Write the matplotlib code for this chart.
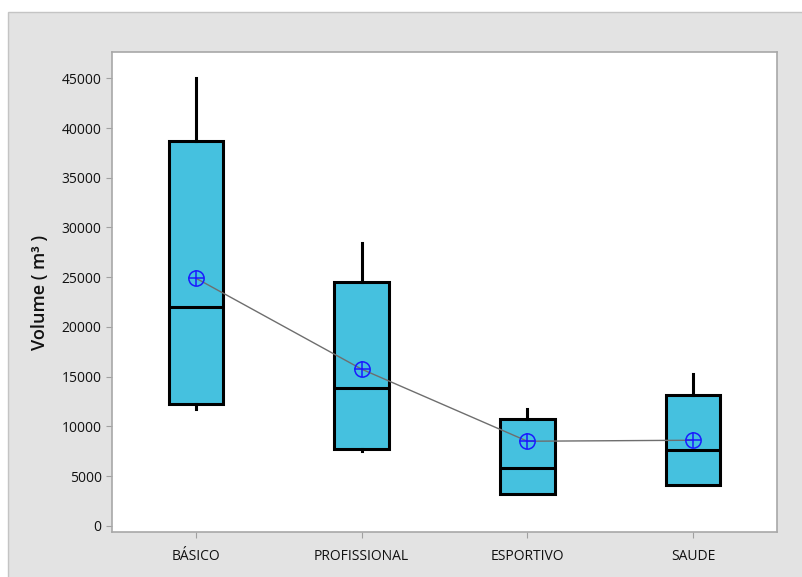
import matplotlib.pyplot as plt
from matplotlib.patches import Rectangle

plt.rcParams['font.family'] = ['Open Sans', 'DejaVu Sans']

# resumo de cada grupo (volume em m³)
categorias = ['BÁSICO', 'PROFISSIONAL', 'ESPORTIVO', 'SAUDE']
whis_inf = [11700, 7550, 3150, 4100]
q1 = [12250, 7700, 3200, 4100]
mediana = [22000, 13900, 5800, 7600]
q3 = [38700, 24550, 10700, 13200]
whis_sup = [45000, 28400, 11750, 15300]
media = [24900, 15750, 8500, 8600]
yticks = [0, 5000, 10000, 15000, 20000, 25000, 30000, 35000, 40000, 45000]

fig = plt.figure(figsize=(8.03, 5.77), dpi=100)
fig.patch.set_facecolor('white')
# painel cinza atras do grafico
fig.patches.append(Rectangle((8 / 803, -0.1), 1.2, 1.1 - 12 / 577, transform=fig.transFigure,
                             facecolor='#e3e3e3', edgecolor='#c4c4c4', lw=1, zorder=-10))

ax = fig.add_axes([112 / 803, 1 - 532 / 577, 665 / 803, 480 / 577])
ax.set_facecolor('white')

stats = []
for i in range(len(categorias)):
    stats.append({'whislo': whis_inf[i], 'q1': q1[i], 'med': mediana[i],
                  'q3': q3[i], 'whishi': whis_sup[i], 'fliers': []})

pos = list(range(1, len(categorias) + 1))
ax.bxp(stats, positions=pos, widths=0.33, patch_artist=True, showcaps=False,
       boxprops=dict(facecolor='#45c1df', edgecolor='black', linewidth=2.2),
       medianprops=dict(color='black', linewidth=2.2),
       whiskerprops=dict(color='black', linewidth=2.2))

# linha ligando as medias
ax.plot(pos, media, color='#6e6e6e', lw=1, zorder=5)
ax.plot(pos, media, ls='none', marker='o', ms=11, mfc='none', mec='#1a1aff', mew=1.1, zorder=6)
ax.plot(pos, media, ls='none', marker='+', ms=12, mec='#1a1aff', mew=1.1, zorder=6)

ax.set_xlim(0.494, 4.506)
ax.set_ylim(-630, 47650)
ax.set_xticks(pos)
ax.set_xticklabels(categorias)
ax.set_yticks(yticks)
ax.set_yticklabels([str(v) for v in yticks])
ax.tick_params(axis='both', colors='#a0a0a0', labelcolor='#111111', labelsize=10, length=4)
ax.tick_params(axis='x', pad=8)
for s in ax.spines.values():
    s.set_color('#a8a8a8')
    s.set_linewidth(1.2)

ax.set_ylabel('Volume ( m³ )', fontsize=13, color='#111111', fontweight='semibold', labelpad=9)

fig.savefig('out.png', dpi=100)
